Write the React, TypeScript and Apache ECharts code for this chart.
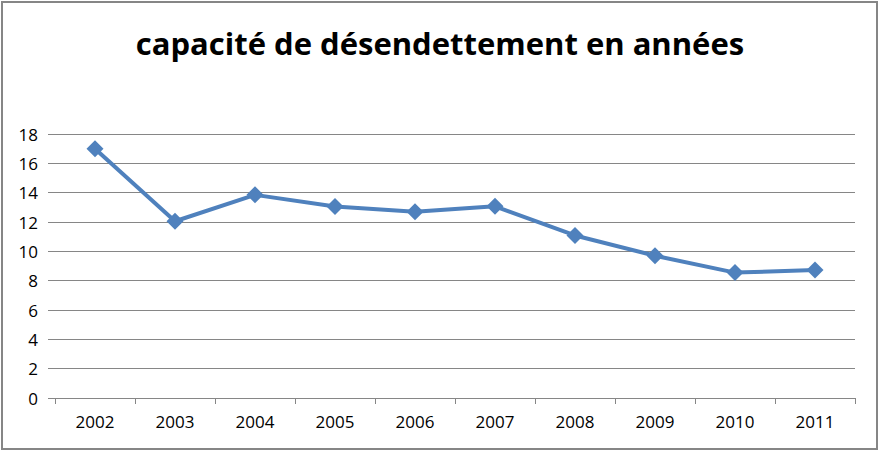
import React, { useEffect, useRef } from "react";
import * as echarts from "echarts";

const years = ["2002", "2003", "2004", "2005", "2006", "2007", "2008", "2009", "2010", "2011"];
const capacite = [17.0, 12.05, 13.85, 13.05, 12.7, 13.07, 11.08, 9.7, 8.55, 8.73];
const titleText = "capacité de désendettement en années";

export default function App() {
  const ref = useRef<HTMLDivElement>(null);
  useEffect(() => {
    if (!ref.current) return;
    const chart = echarts.init(ref.current, null, { renderer: "svg" });
    chart.setOption({
      animation: false,
      backgroundColor: "#ffffff",
      title: {
        text: titleText,
        left: "center",
        top: 22,
        textStyle: {
          fontFamily: "Open Sans",
          fontWeight: "bold",
          fontSize: 31,
          color: "#000000",
        },
      },
      graphic: [
        {
          type: "rect",
          shape: { x: 2, y: 2, width: 875, height: 447 },
          style: { fill: "none", stroke: "#868686", lineWidth: 2 },
          silent: true,
        },
      ],
      grid: { left: 55, right: 25, top: 134, bottom: 53 },
      xAxis: {
        type: "category",
        data: years,
        boundaryGap: true,
        axisLine: { show: true, lineStyle: { color: "#868686", width: 1 } },
        axisTick: { show: true, length: 6, interval: 0, lineStyle: { color: "#868686" } },
        axisLabel: { color: "#000", fontSize: 17, fontFamily: "Open Sans", margin: 15 },
        splitLine: { show: false },
      },
      yAxis: {
        type: "value",
        min: 0,
        max: 18,
        interval: 2,
        axisLine: { show: false },
        axisTick: { show: true, length: 7, lineStyle: { color: "#868686" } },
        axisLabel: { color: "#000", fontSize: 17, fontFamily: "Open Sans", margin: 17 },
        splitLine: { show: true, lineStyle: { color: "#868686", width: 1 } },
      },
      series: [
        {
          type: "line",
          data: capacite,
          symbol: "diamond",
          symbolSize: 17,
          lineStyle: { color: "#4F81BD", width: 4 },
          itemStyle: { color: "#4F81BD" },
        },
      ],
    });
    return () => chart.dispose();
  }, []);
  return (
    <div
      ref={ref}
      style={{ position: "fixed", left: 0, top: 0, width: 880, height: 451 }}
    />
  );
}
